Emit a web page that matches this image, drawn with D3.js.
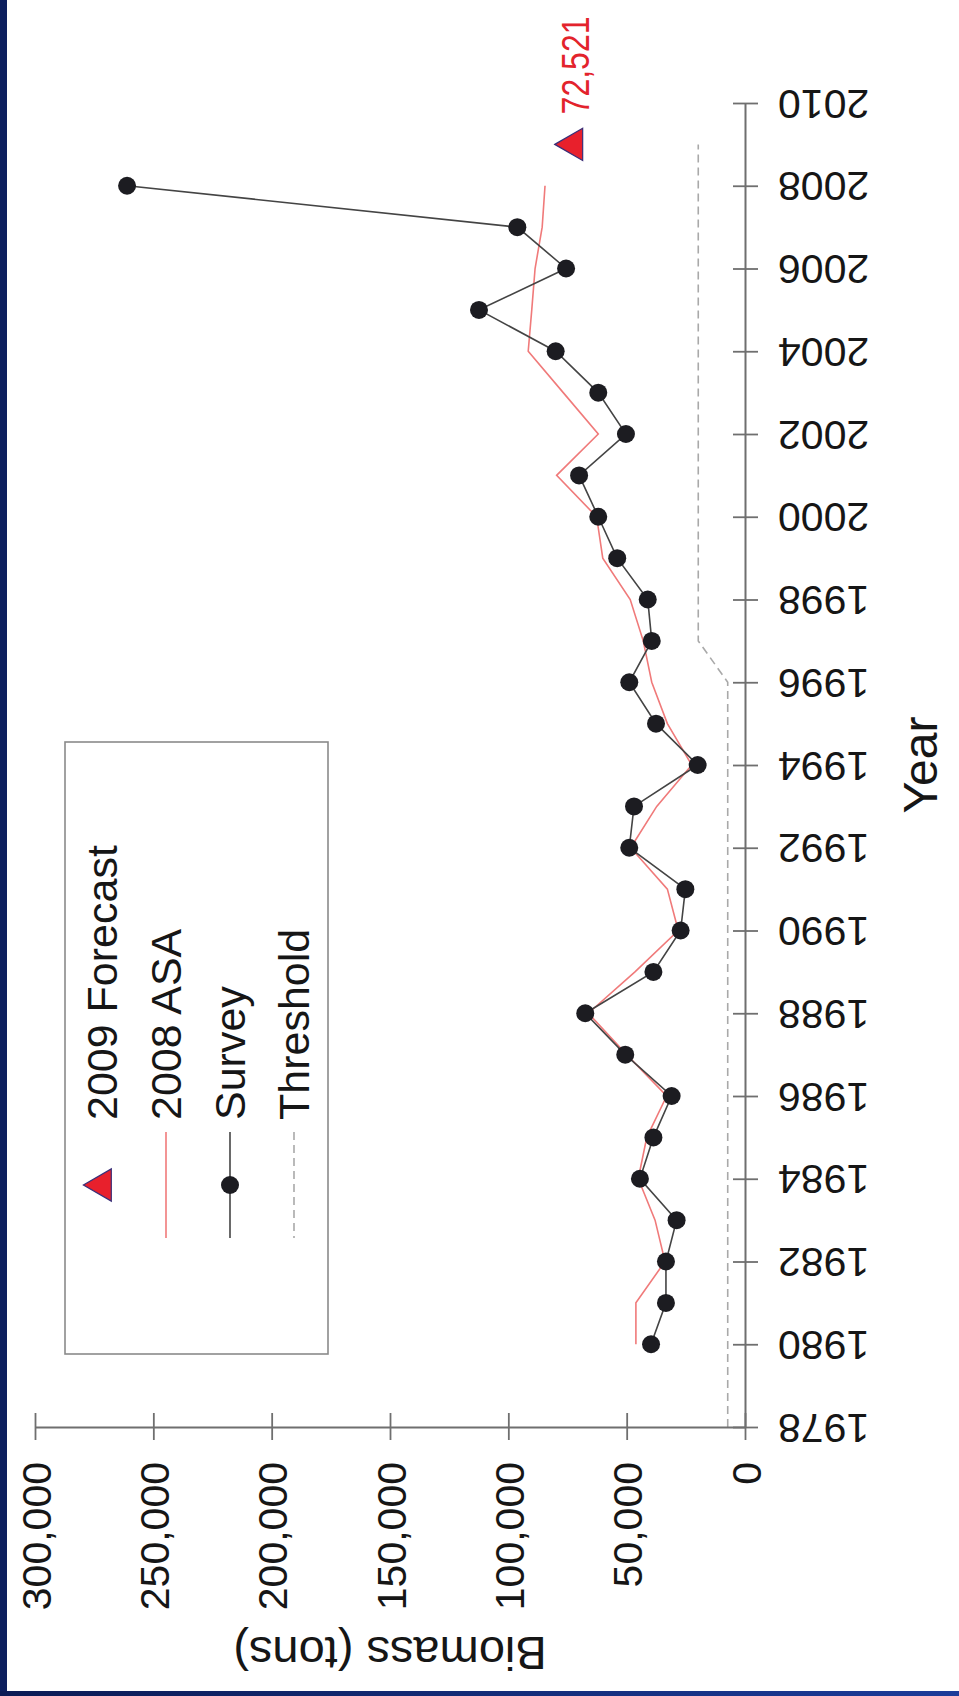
<!DOCTYPE html>
<html>
<head>
<meta charset="utf-8">
<script src="https://cdn.jsdelivr.net/npm/d3@7"></script>
<style>
  html, body { margin: 0; padding: 0; background: #ffffff; }
  svg { display: block; font-family: "Liberation Sans", Arial, Helvetica, sans-serif; }
</style>
</head>
<body>
<svg id="chart" width="959" height="1696"></svg>
<script>
// Survey biomass estimates (tons)
const surveyYears = [1980, 1981, 1982, 1983, 1984, 1985, 1986, 1987, 1988, 1989,
                     1990, 1991, 1992, 1993, 1994, 1995, 1996, 1997, 1998, 1999,
                     2000, 2001, 2002, 2003, 2004, 2005, 2006, 2007, 2008];
const surveyBiomass = [39700, 33400, 33400, 28900, 44400, 38700, 31000, 50600, 67500, 38700,
                       27200, 25200, 48900, 46900, 20000, 37600, 48900, 39400, 41100, 54000,
                       62000, 70100, 50300, 62000, 80000, 112400, 75600, 96200, 261100];

// 2008 assessment (ASA) biomass (tons)
const asaYears = [1980, 1981, 1982, 1983, 1984, 1985, 1986, 1987, 1988, 1989,
                  1990, 1991, 1992, 1993, 1994, 1995, 1996, 1997, 1998, 1999,
                  2000, 2001, 2002, 2003, 2004, 2005, 2006, 2007, 2008];
const asaBiomass = [46100, 46100, 33800, 38000, 45100, 41500, 33100, 50000, 66200, 46500,
                    28200, 32800, 48300, 37300, 22500, 32800, 39400, 43000, 48500, 60100,
                    62700, 79600, 62000, 76800, 91600, 90100, 88700, 85700, 84500];

// Management threshold (tons)
const thresholdYears = [1978, 1996, 1997, 2009];
const thresholdBiomass = [7300, 7300, 19750, 19750];

// 2009 forecast
const forecastYear = 2009;
const forecastBiomass = 72521;

// Axis ticks and legend text
const yearTicks = [1978, 1980, 1982, 1984, 1986, 1988, 1990, 1992, 1994, 1996,
                   1998, 2000, 2002, 2004, 2006, 2008, 2010];
const biomassTicks = [0, 50000, 100000, 150000, 200000, 250000, 300000];
const legendLabels = ["2009 Forecast", "2008 ASA", "Survey", "Threshold"];
const yearTitle = "Year";
const biomassTitle = "Biomass (tons)";

const svg = d3.select("#chart");
const W = 959, H = 1696;

// The plot is laid out on its side: years run upward, biomass runs leftward.
const yearScale = d3.scaleLinear().domain([1978, 2010]).range([1427, 103]);
const bioScale = d3.scaleLinear().domain([0, 300000]).range([745, 35]);

const axisColor = "#6f6f6f";
const textColor = "#161616";
const dotR = 9;

svg.append("rect").attr("x", 0).attr("y", 0).attr("width", W).attr("height", H).attr("fill", "#ffffff");

// Navy slide border on the left and bottom edges
const defs = svg.append("defs");
const grad = defs.append("linearGradient").attr("id", "edgeBlue").attr("x1", 0).attr("x2", 1).attr("y1", 0).attr("y2", 0);
grad.append("stop").attr("offset", "0%").attr("stop-color", "#0b1b55");
grad.append("stop").attr("offset", "100%").attr("stop-color", "#1c3c9a");
svg.append("rect").attr("x", 0).attr("y", 0).attr("width", 7).attr("height", H).attr("fill", "#0d1f5e");
svg.append("rect").attr("x", 0).attr("y", H - 5).attr("width", W).attr("height", 5).attr("fill", "url(#edgeBlue)");

// Threshold (dashed)
const lineGen = d3.line()
  .x(d => bioScale(d[1]))
  .y(d => yearScale(d[0]));

svg.append("path")
  .datum(thresholdYears.map((y, i) => [y, thresholdBiomass[i]]))
  .attr("d", lineGen)
  .attr("fill", "none")
  .attr("stroke", "#a9a9a9")
  .attr("stroke-width", 1.6)
  .attr("stroke-dasharray", "8,5");

// 2008 ASA line
svg.append("path")
  .datum(asaYears.map((y, i) => [y, asaBiomass[i]]))
  .attr("d", lineGen)
  .attr("fill", "none")
  .attr("stroke", "#f07a7a")
  .attr("stroke-width", 1.6);

// Survey line and points
const surveyData = surveyYears.map((y, i) => [y, surveyBiomass[i]]);
svg.append("path")
  .datum(surveyData)
  .attr("d", lineGen)
  .attr("fill", "none")
  .attr("stroke", "#444444")
  .attr("stroke-width", 1.6);

svg.append("g").selectAll("circle")
  .data(surveyData)
  .join("circle")
  .attr("cx", d => bioScale(d[1]))
  .attr("cy", d => yearScale(d[0]))
  .attr("r", dotR)
  .attr("fill", "#1c1c21");

// Forecast triangle and its value label
const tri = d3.symbol().type(d3.symbolTriangle).size(450);
svg.append("path")
  .attr("d", tri())
  .attr("transform", `translate(${bioScale(forecastBiomass)},${yearScale(forecastYear)}) rotate(-90)`)
  .attr("fill", "#e8202c")
  .attr("stroke", "#3a2f78")
  .attr("stroke-width", 1.2);

svg.append("text")
  .attr("transform", `translate(${bioScale(forecastBiomass) + 16},${yearScale(forecastYear) - 30}) rotate(-90) scale(1,1.2)`)
  .attr("text-anchor", "start")
  .attr("font-size", 32)
  .attr("fill", "#e3232c")
  .text(d3.format(",")(forecastBiomass));

// Year axis (vertical, on the right)
const yearAxis = svg.append("g")
  .attr("transform", "translate(745,0)")
  .call(d3.axisRight(yearScale).tickValues(yearTicks).tickSize(13).tickSizeOuter(0).tickFormat(d3.format("d")));
yearAxis.attr("font-family", null).attr("font-size", null);
yearAxis.select(".domain").attr("stroke", axisColor).attr("stroke-width", 2);
yearAxis.selectAll(".tick line").attr("x1", -12).attr("x2", 13).attr("stroke", axisColor).attr("stroke-width", 1.8);
yearAxis.selectAll(".tick text")
  .attr("x", null).attr("dy", null)
  .attr("fill", textColor)
  .attr("font-size", 41)
  .attr("text-anchor", "end")
  .attr("transform", "translate(33,-14) rotate(180)");

// Biomass axis (horizontal, at the bottom)
const bioAxis = svg.append("g")
  .attr("transform", "translate(0,1427)")
  .call(d3.axisBottom(bioScale).tickValues(biomassTicks).tickSize(13).tickSizeOuter(0).tickFormat(d3.format(",")));
bioAxis.attr("font-family", null).attr("font-size", null);
bioAxis.select(".domain").attr("stroke", axisColor).attr("stroke-width", 2);
bioAxis.selectAll(".tick line").attr("y1", -14).attr("y2", 13).attr("stroke", axisColor).attr("stroke-width", 1.8);
bioAxis.selectAll(".tick text")
  .attr("y", null).attr("dy", null)
  .attr("fill", textColor)
  .attr("font-size", 41)
  .attr("text-anchor", "end")
  .attr("transform", "translate(15,35) rotate(-90)");

// Axis titles
svg.append("text")
  .attr("transform", `translate(937,${(yearScale(1978) + yearScale(2010)) / 2}) rotate(-90)`)
  .attr("text-anchor", "middle")
  .attr("font-size", 48)
  .attr("fill", textColor)
  .text(yearTitle);

svg.append("text")
  .attr("transform", `translate(${(bioScale(0) + bioScale(300000)) / 2},1637) rotate(180)`)
  .attr("text-anchor", "middle")
  .attr("font-size", 47)
  .attr("fill", textColor)
  .text(biomassTitle);

// Legend
const legend = svg.append("g");
legend.append("rect")
  .attr("x", 65).attr("y", 742).attr("width", 263).attr("height", 612)
  .attr("fill", "#ffffff").attr("stroke", "#8a8a8a").attr("stroke-width", 1.6);

const rowX = d3.scalePoint().domain(legendLabels).range([102, 294]);
const markY = 1185, lineTop = 1132, lineBot = 1238;

legend.append("path")
  .attr("d", tri())
  .attr("transform", `translate(${rowX(legendLabels[0])},${markY}) rotate(-90)`)
  .attr("fill", "#e8202c").attr("stroke", "#3a2f78").attr("stroke-width", 1.2);

legend.append("line")
  .attr("x1", rowX(legendLabels[1])).attr("x2", rowX(legendLabels[1]))
  .attr("y1", lineTop).attr("y2", lineBot)
  .attr("stroke", "#f07a7a").attr("stroke-width", 1.6);

legend.append("line")
  .attr("x1", rowX(legendLabels[2])).attr("x2", rowX(legendLabels[2]))
  .attr("y1", lineTop).attr("y2", lineBot)
  .attr("stroke", "#444444").attr("stroke-width", 1.6);
legend.append("circle")
  .attr("cx", rowX(legendLabels[2])).attr("cy", markY).attr("r", dotR).attr("fill", "#1c1c21");

legend.append("line")
  .attr("x1", rowX(legendLabels[3])).attr("x2", rowX(legendLabels[3]))
  .attr("y1", lineTop).attr("y2", lineBot)
  .attr("stroke", "#a9a9a9").attr("stroke-width", 1.6).attr("stroke-dasharray", "8,5");

legend.selectAll("text.lab")
  .data(legendLabels)
  .join("text")
  .attr("class", "lab")
  .attr("transform", d => `translate(${rowX(d) + 15},1120) rotate(-90)`)
  .attr("text-anchor", "start")
  .attr("font-size", 43)
  .attr("fill", textColor)
  .text(d => d);
</script>
</body>
</html>
